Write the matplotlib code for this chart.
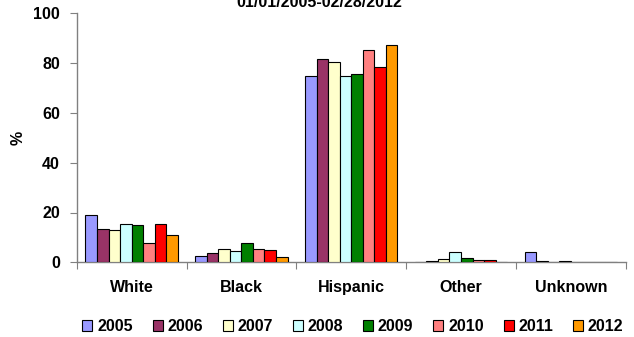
import matplotlib
matplotlib.use("Agg")
import matplotlib.pyplot as plt
import numpy as np
from matplotlib.patches import Patch

plt.rcParams['font.family'] = ['Liberation Sans', 'DejaVu Sans']
plt.rcParams['font.weight'] = 'bold'

categories = ["White", "Black", "Hispanic", "Other", "Unknown"]
years = ["2005", "2006", "2007", "2008", "2009", "2010", "2011", "2012"]
colors = ["#9999FF", "#993366", "#FFFFCC", "#CCFFFF", "#008000", "#FF8080", "#FF0000", "#FF9900"]

# percent by race, one list per year (White, Black, Hispanic, Other, Unknown)
v2005 = [18.9, 2.5, 74.8, 0.0, 4.0]
v2006 = [13.2, 3.6, 81.5, 0.6, 0.7]
v2007 = [12.8, 5.2, 80.3, 1.3, 0.0]
v2008 = [15.3, 4.5, 74.8, 4.0, 0.7]
v2009 = [15.0, 7.6, 75.6, 1.7, 0.0]
v2010 = [7.6, 5.2, 85.3, 1.0, 0.3]
v2011 = [15.4, 4.8, 78.3, 1.0, 0.3]
v2012 = [11.0, 2.0, 87.1, 0.0, 0.0]
series = [v2005, v2006, v2007, v2008, v2009, v2010, v2011, v2012]

yticks = [0, 20, 40, 60, 80, 100]
title = "01/01/2005-02/28/2012"

fig = plt.figure(figsize=(6.34, 3.37), dpi=100)
ax = fig.add_axes([76.7 / 634, 1 - 262.3 / 337, (625.7 - 76.7) / 634, (262.3 - 13.3) / 337])

fs = 11.5
n = len(series)
bw = 0.105
x = np.arange(len(categories))
for i, (vals, col) in enumerate(zip(series, colors)):
    offs = (i - (n - 1) / 2) * bw
    ax.bar(x + offs, vals, width=bw, color=col, edgecolor="black", linewidth=0.8,
           label=years[i], zorder=3)

ax.set_xlim(-0.5, len(categories) - 0.5)
ax.set_ylim(0, 100)
ax.set_yticks(yticks)
ax.set_yticklabels([str(t) for t in yticks], fontsize=fs, fontweight='bold')
ax.set_xticks(np.arange(-0.5, len(categories), 1.0))
ax.set_xticklabels([])
ax.set_xticks(x, minor=True)
ax.set_xticklabels(categories, minor=True, fontsize=fs, fontweight='bold')
ax.tick_params(axis='x', which='minor', length=0, pad=13)
ax.tick_params(axis='x', which='major', length=5, color="#808080", direction='out')
ax.tick_params(axis='y', length=5, color="#808080", direction='out', pad=7)

for s in ["top", "right"]:
    ax.spines[s].set_visible(False)
for s in ["left", "bottom"]:
    ax.spines[s].set_color("#808080")
    ax.spines[s].set_linewidth(1.0)

ax.set_ylabel("%", fontsize=fs, fontweight='bold', va='center')
ax.yaxis.set_label_coords((18 - 76.7) / 549, 0.5)

fig.text(319 / 634, 1 - 7 / 337, title, ha='center', va='baseline', fontsize=11.5, fontweight='bold')

handles = [Patch(facecolor=c, edgecolor="black", linewidth=0.8, label=y) for c, y in zip(colors, years)]
fig.legend(handles=handles, loc='center', bbox_to_anchor=(353 / 634, 1 - 326.7 / 337), ncol=8,
           frameon=False, fontsize=fs, handlelength=0.62, handleheight=0.62, handletextpad=0.3,
           columnspacing=1.25, borderaxespad=0, borderpad=0)

fig.savefig("out.png", dpi=100)
